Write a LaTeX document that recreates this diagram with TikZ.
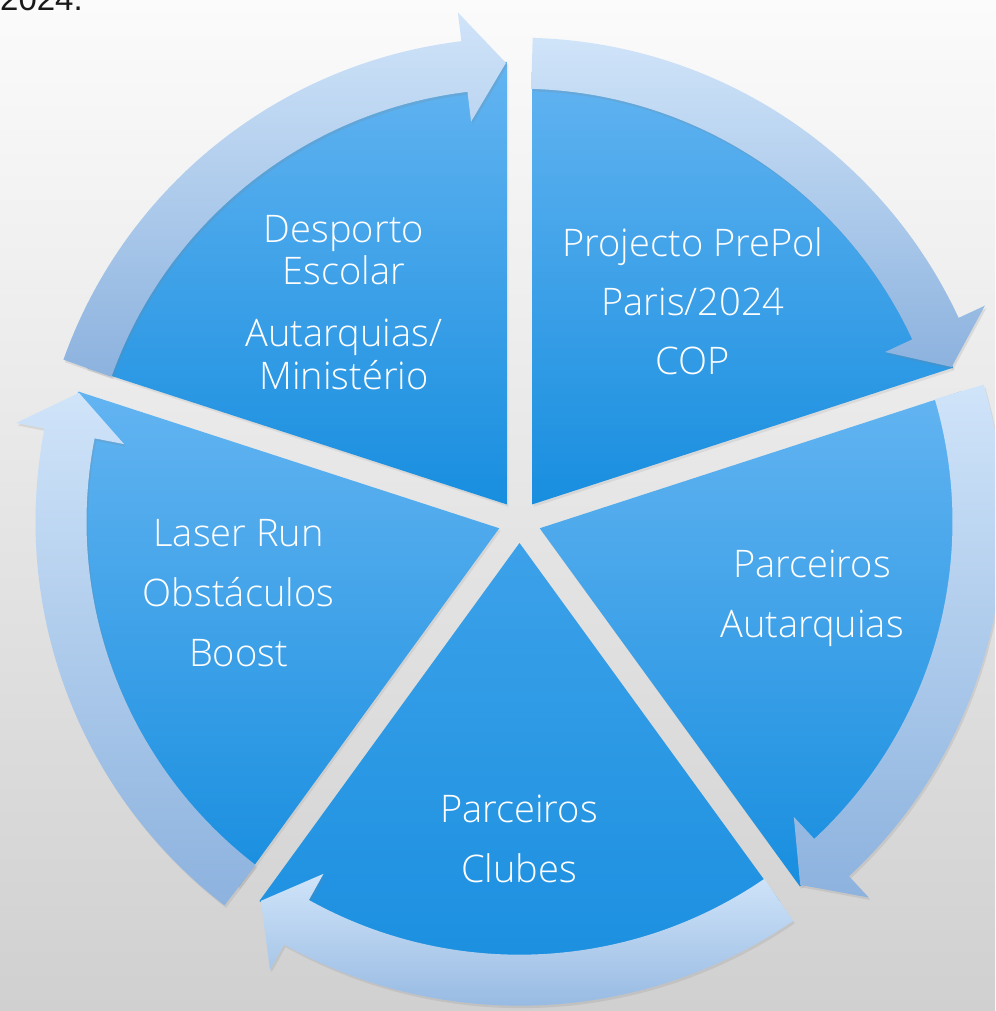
\documentclass[tikz,border=0pt]{standalone}
\usepackage{fontspec}
\newfontfamily\lightfont{Open Sans Light}
\newfontfamily\plainfont{Liberation Sans}
\usetikzlibrary{shadows}

\definecolor{sectorlight}{RGB}{99,180,241}
\definecolor{sectormid}{RGB}{60,161,233}
\definecolor{sectordark}{RGB}{24,142,223}
\definecolor{arrowlight}{RGB}{208,228,249}
\definecolor{arrowdark}{RGB}{140,178,222}
\definecolor{bgtop}{RGB}{251,251,251}
\definecolor{bgmid}{RGB}{240,240,240}
\definecolor{bgbottom}{RGB}{208,208,208}

\begin{document}
\begin{tikzpicture}[x=1pt, y=1pt,
  sector/.style={bottom color=sectordark,
    drop shadow={shadow xshift=1.5pt, shadow yshift=-2.5pt, opacity=0.15}},
  cyclearrow/.style={top color=arrowlight, bottom color=arrowdark,
    drop shadow={shadow xshift=1.5pt, shadow yshift=-2.5pt, opacity=0.18}},
  lbl/.style={anchor=base, inner sep=0pt, text=white, font=\lightfont\fontsize{38}{46}\selectfont}]
  \useasboundingbox (0,0) rectangle (995,1011);
  \clip (0,0) rectangle (995,1011);
  \shade[top color=bgtop, middle color=bgmid, bottom color=bgbottom] (0,0) rectangle (995,1011);
  \node[anchor=base west, inner sep=0pt, text=black!90, font=\plainfont\fontsize{33}{40}\selectfont] (year) at (0,1000) {2024.};
  \coordinate (c) at (519.5,489.3);
  % five pie sectors, separated by straight gaps
  \foreach \b/\tc in {18/sectorlight,90/sectorlight,162/sectorlight,234/sectormid,306/sectorlight} {
    \path[sector, top color=\tc, shift={(c)}] ({\b+36}:21.3) -- ({\b+1.56}:460)
      arc[start angle=\b+1.56, end angle=\b+70.44, radius=460] -- cycle;
  }
  % curved arrows round the rim, running clockwise
  \foreach \b in {18,90,162,234,306} {
    \path[cyclearrow, shift={(c)}] ({\b+70.44}:484)
      arc[start angle=\b+70.44, end angle=\b+6.9, radius=484]
      -- ({\b+6.9}:513) -- ({\b+1.7}:459) -- ({\b+6.9}:403) -- ({\b+6.9}:433)
      arc[start angle=\b+6.9, end angle=\b+70.44, radius=433] -- cycle;
  }
  % labels
  \node[lbl] (desporto) at (344,768) {Desporto};
  \node[lbl] (escolar) at (344,726) {Escolar};
  \node[lbl] (autarq) at (344,664) {Autarquias/};
  \node[lbl] (minist) at (344,621) {Ministério};
  \node[lbl] (projecto) at (693,754) {Projecto PrePol};
  \node[lbl] (paris) at (693,695) {Paris/2024};
  \node[lbl] (cop) at (693,636) {COP};
  \node[lbl] (parcA) at (812,433) {Parceiros};
  \node[lbl] (autarqB) at (812,373) {Autarquias};
  \node[lbl] (parcC) at (519,188) {Parceiros};
  \node[lbl] (clubes) at (519,128) {Clubes};
  \node[lbl] (laser) at (238.5,464) {Laser Run};
  \node[lbl] (obst) at (238.5,404) {Obstáculos};
  \node[lbl] (boost) at (238.5,344) {Boost};
\end{tikzpicture}
\end{document}
